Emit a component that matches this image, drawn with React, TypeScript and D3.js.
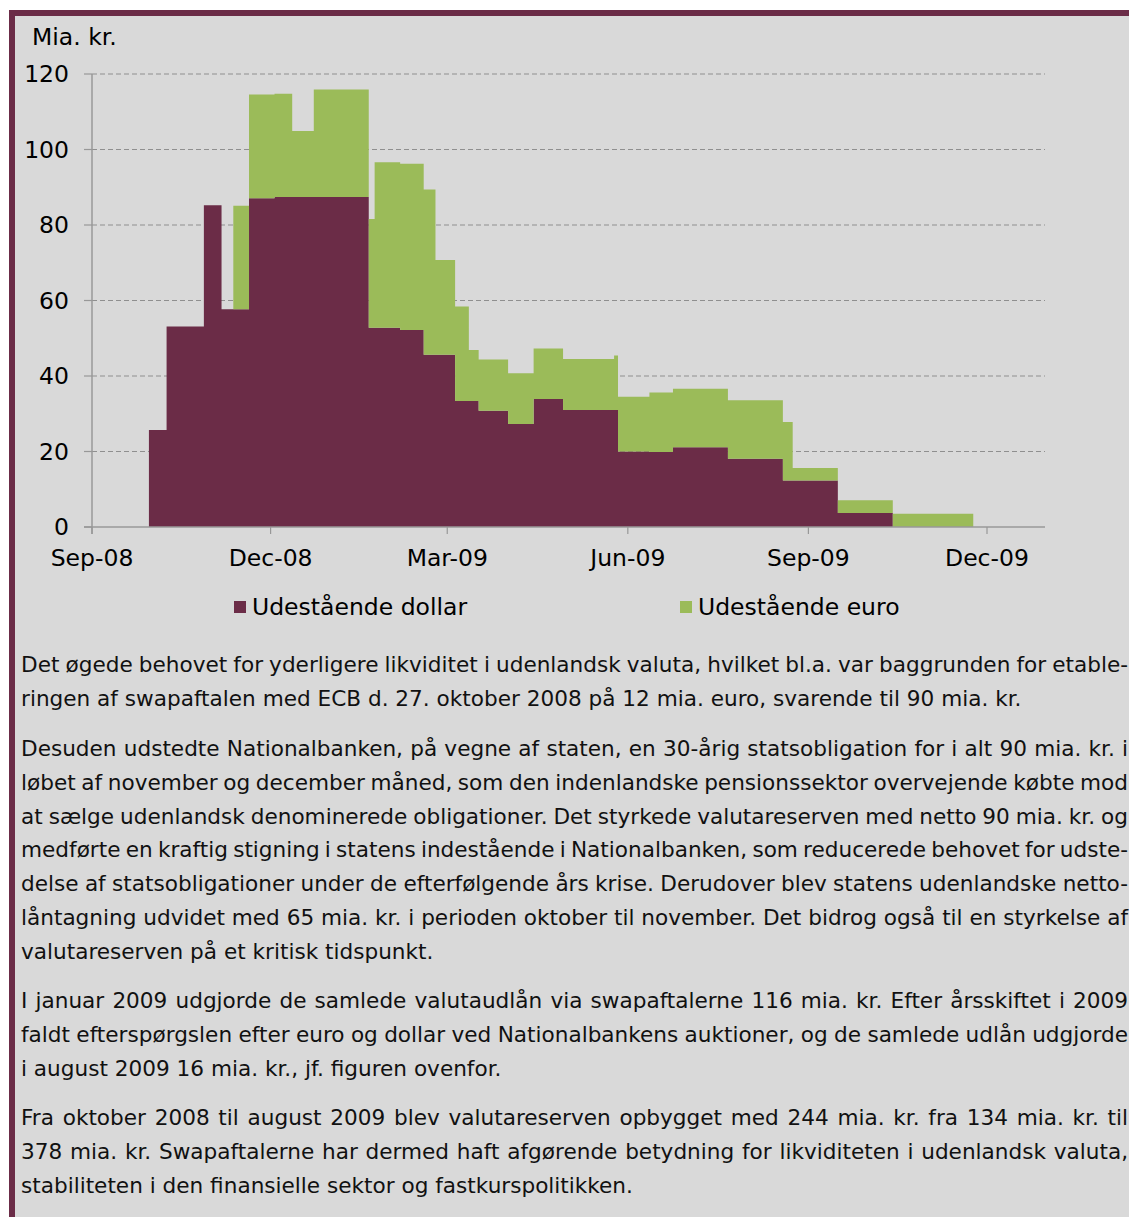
import React from "react";
import * as d3 from "d3";

// Dates on which the outstanding swap amounts changed, and the level from that date on (mia. kr.)
const changeDates = [
  "2008-09-30", "2008-10-09", "2008-10-28", "2008-11-06", "2008-11-12", "2008-11-20",
  "2008-12-03", "2008-12-12", "2008-12-23", "2009-01-20", "2009-01-23", "2009-02-05",
  "2009-02-17", "2009-02-23", "2009-03-05", "2009-03-12", "2009-03-17", "2009-04-01",
  "2009-04-14", "2009-04-29", "2009-05-25", "2009-05-27", "2009-06-12", "2009-06-24",
  "2009-07-22", "2009-08-19", "2009-08-24", "2009-09-16", "2009-10-14", "2009-11-24",
];
const dollarValues = [
  25.7, 53.1, 85.2, 57.7, 57.7, 87.1,
  87.4, 87.4, 87.4, 52.8, 52.8, 52.2,
  45.6, 45.6, 33.4, 33.4, 30.8, 27.3,
  33.9, 31.0, 31.0, 20.0, 19.9, 21.1,
  18.1, 12.3, 12.3, 3.7, 0, 0,
];
const euroValues = [
  0, 0, 0, 0, 27.4, 27.5,
  27.4, 17.5, 28.5, 28.8, 43.8, 44.0,
  43.8, 25.1, 25.0, 13.5, 13.6, 13.4,
  13.4, 13.5, 14.4, 14.5, 15.7, 15.5,
  15.5, 15.5, 3.3, 3.4, 3.5, 0,
];

const seriesKeys = ["dollar", "euro"];
const seriesLabels = ["Udestående dollar", "Udestående euro"];
const yTicks = [0, 20, 40, 60, 80, 100, 120];
const xTickDates = ["2008-09-01", "2008-12-01", "2009-03-01", "2009-06-01", "2009-09-01", "2009-12-01"];
const yUnitLabel = "Mia. kr.";

const paragraphs = [
  [
    "Det øgede behovet for yderligere likviditet i udenlandsk valuta, hvilket bl.a. var baggrunden for etable-",
    "ringen af swapaftalen med ECB d. 27. oktober 2008 på 12 mia. euro, svarende til 90 mia. kr.",
  ],
  [
    "Desuden udstedte Nationalbanken, på vegne af staten, en 30-årig statsobligation for i alt 90 mia. kr. i",
    "løbet af november og december måned, som den indenlandske pensionssektor overvejende købte mod",
    "at sælge udenlandsk denominerede obligationer. Det styrkede valutareserven med netto 90 mia. kr. og",
    "medførte en kraftig stigning i statens indestående i Nationalbanken, som reducerede behovet for udste-",
    "delse af statsobligationer under de efterfølgende års krise. Derudover blev statens udenlandske netto-",
    "låntagning udvidet med 65 mia. kr. i perioden oktober til november. Det bidrog også til en styrkelse af",
    "valutareserven på et kritisk tidspunkt.",
  ],
  [
    "I januar 2009 udgjorde de samlede valutaudlån via swapaftalerne 116 mia. kr. Efter årsskiftet i 2009",
    "faldt efterspørgslen efter euro og dollar ved Nationalbankens auktioner, og de samlede udlån udgjorde",
    "i august 2009 16 mia. kr., jf. figuren ovenfor.",
  ],
  [
    "Fra oktober 2008 til august 2009 blev valutareserven opbygget med 244 mia. kr. fra 134 mia. kr. til",
    "378 mia. kr. Swapaftalerne har dermed haft afgørende betydning for likviditeten i udenlandsk valuta,",
    "stabiliteten i den finansielle sektor og fastkurspolitikken.",
  ],
];

const W = 1129;
const H = 1217;
const MAROON = "#6b2c47";
const GREEN = "#9bbb59";
const PANEL = "#d9d9d9";
const AXIS = "#989898";
const FONT = "'DejaVu Sans', Verdana, sans-serif";
const CHART_FS = 23.5;
const BODY_FS = 21.6;

const parse = d3.utcParse("%Y-%m-%d");
const fmtTick = d3.utcFormat("%b-%y");

let measureCtx: CanvasRenderingContext2D | null = null;
function textWidth(s: string, size: number): number {
  if (!measureCtx) {
    const c = document.createElement("canvas");
    measureCtx = c.getContext("2d");
  }
  if (!measureCtx) return s.length * size * 0.6;
  measureCtx.font = `${size}px 'DejaVu Sans'`;
  return measureCtx.measureText(s).width;
}

function JustifiedLine({ text, x0, x1, y, justify }: { text: string; x0: number; x1: number; y: number; justify: boolean }) {
  if (!justify) {
    return (
      <text x={x0} y={y} fontSize={BODY_FS} fontFamily={FONT} fill="#111">
        {text}
      </text>
    );
  }
  const words = text.split(" ");
  const widths = words.map((w) => textWidth(w, BODY_FS));
  const total = d3.sum(widths);
  const gap = words.length > 1 ? (x1 - x0 - total) / (words.length - 1) : 0;
  let cx = x0;
  return (
    <g>
      {words.map((w, i) => {
        const el = (
          <text key={i} x={cx} y={y} fontSize={BODY_FS} fontFamily={FONT} fill="#111">
            {w}
          </text>
        );
        cx += widths[i] + gap;
        return el;
      })}
    </g>
  );
}

export default function App() {
  const rows = changeDates.map((d, i) => ({
    date: parse(d) as Date,
    dollar: dollarValues[i],
    euro: euroValues[i],
  }));

  const x = d3
    .scaleUtc()
    .domain([parse("2008-09-01") as Date, parse("2009-12-01") as Date])
    .range([92, 987]);
  const y = d3.scaleLinear().domain([0, 120]).range([527, 74]);
  const plotRight = 1045;

  const stacked = d3.stack<any>().keys(seriesKeys)(rows);
  const area = d3
    .area<any>()
    .curve(d3.curveStepAfter)
    .x((d) => x(d.data.date))
    .y0((d) => y(d[0]))
    .y1((d) => y(d[1]));

  const colors = [MAROON, GREEN];

  // paragraph layout
  const lineStep = 33.8;
  const paraStarts = [672, 756, 1008, 1125];

  return (
    <svg
      width={W}
      height={H}
      viewBox={`0 0 ${W} ${H}`}
      style={{ position: "absolute", left: 0, top: 0, display: "block" }}
    >
      <rect x={0} y={0} width={W} height={H} fill="#ffffff" />
      <rect x={9} y={10} width={W - 9} height={H - 10} fill={MAROON} />
      <rect x={15} y={16} width={W - 15} height={H - 16} fill={PANEL} />

      {/* gridlines */}
      {yTicks
        .filter((t) => t > 0)
        .map((t) => (
          <line
            key={t}
            x1={92}
            x2={plotRight}
            y1={y(t)}
            y2={y(t)}
            stroke="#8f8f8f"
            strokeWidth={1.2}
            strokeDasharray="5,3"
          />
        ))}

      {/* stacked areas */}
      {stacked.map((s, i) => (
        <path key={s.key} d={area(s as any) || ""} fill={colors[i]} />
      ))}

      {/* axes */}
      <line x1={92} x2={92} y1={74} y2={534} stroke={AXIS} strokeWidth={1.5} />
      <line x1={84} x2={plotRight} y1={527} y2={527} stroke={AXIS} strokeWidth={1.5} />
      {yTicks.map((t) => (
        <g key={t}>
          <line x1={84} x2={92} y1={y(t)} y2={y(t)} stroke={AXIS} strokeWidth={1.2} />
          <text
            x={69}
            y={y(t)}
            dy="0.36em"
            textAnchor="end"
            fontSize={CHART_FS}
            fontFamily={FONT}
            fill="#000"
          >
            {t}
          </text>
        </g>
      ))}
      {xTickDates.map((ds) => {
        const d = parse(ds) as Date;
        const px = x(d);
        return (
          <g key={ds}>
            <line x1={px} x2={px} y1={527} y2={534} stroke={AXIS} strokeWidth={1.2} />
            <text
              x={px}
              y={566}
              textAnchor="middle"
              fontSize={CHART_FS}
              fontFamily={FONT}
              fill="#000"
            >
              {fmtTick(d)}
            </text>
          </g>
        );
      })}
      <text x={32} y={45} fontSize={CHART_FS} fontFamily={FONT} fill="#000">
        {yUnitLabel}
      </text>

      {/* legend */}
      {seriesLabels.map((lab, i) => {
        const lx = [234, 680][i];
        return (
          <g key={lab}>
            <rect x={lx} y={601} width={12} height={12} fill={colors[i]} />
            <text x={lx + 18} y={615} fontSize={CHART_FS} fontFamily={FONT} fill="#000">
              {lab}
            </text>
          </g>
        );
      })}

      {/* body text */}
      {paragraphs.map((lines, pi) =>
        lines.map((ln, li) => (
          <JustifiedLine
            key={`${pi}-${li}`}
            text={ln}
            x0={21}
            x1={1128}
            y={paraStarts[pi] + li * lineStep}
            justify={li < lines.length - 1}
          />
        ))
      )}
    </svg>
  );
}
